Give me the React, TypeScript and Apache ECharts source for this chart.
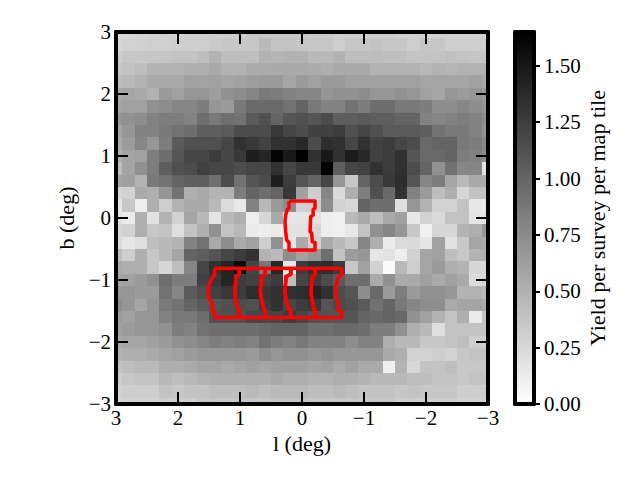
import React, { useEffect, useRef } from "react";
import * as echarts from "echarts";

const longitudes = [3, 2.8, 2.6, 2.4, 2.2, 2, 1.8, 1.6, 1.4, 1.2, 1, 0.8, 0.6, 0.4, 0.2, 0, -0.2, -0.4, -0.6, -0.8, -1, -1.2, -1.4, -1.6, -1.8, -2, -2.2, -2.4, -2.6, -2.8, -3];
const latitudes = [3, 2.8, 2.6, 2.4, 2.2, 2, 1.8, 1.6, 1.4, 1.2, 1, 0.8, 0.6, 0.4, 0.2, 0, -0.2, -0.4, -0.6, -0.8, -1, -1.2, -1.4, -1.6, -1.8, -2, -2.2, -2.4, -2.6, -2.8, -3];
const cellStep = 0.2;

const yieldRows = [
  [.26,.26,.28,.29,.30,.30,.32,.32,.32,.32,.32,.36,.36,.36,.36,.36,.34,.34,.32,.32,.32,.32,.32,.30,.30,.30,.30,.30,.29,.29,.29],
  [.26,.29,.30,.31,.30,.32,.32,.32,.34,.36,.36,.36,.45,.39,.39,.37,.36,.36,.32,.37,.37,.39,.36,.36,.32,.37,.36,.32,.32,.32,.32],
  [.32,.36,.36,.36,.37,.39,.39,.42,.49,.42,.42,.42,.49,.47,.49,.50,.45,.45,.49,.42,.42,.43,.41,.41,.38,.38,.38,.41,.38,.37,.37],
  [.36,.39,.42,.49,.49,.50,.52,.52,.55,.49,.49,.54,.54,.55,.55,.55,.54,.52,.55,.55,.55,.49,.50,.50,.49,.45,.49,.47,.50,.50,.49],
  [.42,.45,.50,.55,.55,.55,.61,.60,.61,.58,.60,.63,.65,.65,.58,.65,.61,.65,.65,.61,.61,.61,.61,.61,.61,.58,.58,.58,.58,.61,.55],
  [.55,.58,.55,.50,.65,.61,.68,.68,.63,.71,.74,.78,.87,.84,.81,.78,.78,.68,.71,.71,.74,.68,.68,.71,.68,.61,.58,.68,.65,.68,.65],
  [.58,.61,.61,.71,.74,.78,.78,.84,.68,.65,.87,.97,.97,.97,.91,1.00,.87,.81,.81,.91,.84,.94,.94,.87,.87,.84,.74,.74,.78,.74,.68],
  [.68,.71,.74,.81,.84,.84,.81,.94,.87,.94,.91,1.07,1.13,1.00,1.10,1.13,1.10,1.16,1.04,1.04,1.07,1.04,1.04,1.00,1.00,.81,.78,.81,.84,.81,.74],
  [.58,.68,.81,.81,.87,.91,.94,1.04,1.04,1.07,1.16,1.16,1.16,1.29,1.20,1.16,1.23,1.23,1.26,1.13,1.20,1.13,1.07,1.07,1.07,1.04,.91,.87,.87,.81,.71],
  [.55,.65,.78,.68,.84,1.07,1.13,1.13,1.13,1.20,1.33,1.29,1.23,1.33,1.33,1.39,1.16,1.36,1.33,1.20,1.33,1.23,1.26,1.20,1.16,.97,1.00,1.00,.87,.84,.78],
  [.52,.58,.61,.84,.94,1.10,1.20,1.20,1.26,1.20,1.29,1.46,1.42,1.63,1.49,1.65,1.33,1.49,1.33,1.47,1.39,1.23,1.26,1.33,1.10,.97,.97,1.00,.84,.81,.74],
  [.42,.58,.71,.84,1.04,1.13,1.16,1.23,1.20,1.20,1.16,1.20,1.20,1.33,1.20,1.29,1.29,1.65,1.04,1.20,1.23,1.33,1.26,1.33,1.16,1.00,.71,.91,.78,.78,.19],
  [.58,.61,.49,.87,.91,1.00,1.04,1.04,.94,1.16,.91,1.10,1.16,1.46,1.26,1.10,1.00,1.20,.68,.36,1.00,1.16,1.29,1.36,1.10,.78,.84,.58,.45,.55,.55],
  [.26,.29,.55,.52,.68,.91,.52,.55,.49,.49,.84,1.00,.94,1.00,1.29,.61,.32,.78,.23,.52,.84,1.13,.97,1.33,.81,.65,.42,.52,.26,.39,.39],
  [.16,.36,.11,.52,.32,.49,.55,.55,.45,.23,.15,.81,.45,.65,.74,.29,.32,.74,.29,.26,1.00,.94,.94,.21,.68,.49,.29,.29,.39,.15,.15],
  [.19,.13,.52,.19,.49,.29,.58,.45,.17,.45,.52,.11,.26,.55,.16,.17,.19,.11,.10,.45,.55,.42,.55,.61,.15,.29,.24,.39,.39,.17,.19],
  [.26,.29,.52,.36,.39,.21,.39,.52,.71,.39,.45,.13,.11,.13,.19,.19,.26,.11,.10,.15,.39,.71,.78,.68,.36,.10,.26,.26,.49,.52,.68],
  [.23,.16,.21,.42,.45,.49,.81,.91,.55,.74,.55,.61,.32,.71,.16,.55,.29,.55,.45,.36,.78,.52,.13,.23,.24,.16,.61,.19,.36,.58,.55],
  [.42,.32,.52,.36,.45,.58,1.00,1.04,1.10,1.20,1.26,1.33,.49,.45,.74,.61,.68,.94,.39,.65,.68,.16,.19,.11,.29,.58,.61,.42,.36,.49,.52],
  [.55,.52,.52,.36,.26,.42,.78,1.20,1.33,1.42,1.59,1.20,.87,1.39,.16,1.26,1.33,1.36,1.26,.36,.61,.29,.03,.45,.32,.58,.65,.52,.49,.26,.26],
  [.58,.61,.65,.71,.94,.84,.84,1.23,1.29,1.42,1.26,1.23,1.20,1.26,.42,1.20,1.26,1.16,1.07,.94,.94,.55,.71,.55,.55,.61,.55,.61,.55,.23,.26],
  [.68,.68,.65,.65,.91,.78,1.07,1.13,1.23,1.29,1.26,1.36,1.29,1.33,1.33,1.36,1.42,1.33,1.16,1.10,.74,.97,.65,.84,.65,.71,.71,.68,.49,.49,.45],
  [.74,.68,.58,.68,.87,.91,1.00,1.07,1.10,1.13,1.16,1.13,1.26,1.33,1.20,1.26,1.29,1.10,1.16,1.13,1.07,.91,1.00,.87,.78,.74,.74,.55,.58,.58,.55],
  [.65,.61,.68,.68,.81,.87,.87,.94,1.13,1.13,1.13,1.20,1.20,1.20,1.26,1.20,1.13,1.10,1.10,1.10,1.00,.97,1.00,.97,.71,.61,.49,.39,.52,.13,.39],
  [.61,.65,.68,.68,.71,.84,.81,.91,.94,.94,.94,.94,.97,1.00,1.00,1.00,.94,.94,.97,.97,.94,.84,.84,.71,.52,.45,.21,.39,.39,.39,.39],
  [.55,.58,.58,.61,.65,.71,.74,.78,.84,.81,.84,.81,.91,.84,.81,.87,.81,.81,.81,.74,.81,.81,.52,.45,.45,.36,.36,.39,.42,.32,.32],
  [.49,.52,.52,.55,.58,.61,.65,.68,.68,.68,.68,.65,.74,.68,.71,.71,.68,.71,.68,.68,.68,.68,.55,.52,.29,.29,.32,.29,.36,.39,.39],
  [.39,.42,.45,.45,.52,.52,.55,.58,.58,.55,.58,.61,.58,.61,.61,.61,.58,.61,.55,.61,.55,.55,.10,.49,.26,.39,.39,.42,.36,.36,.36],
  [.32,.36,.39,.39,.45,.42,.45,.49,.52,.52,.52,.52,.52,.55,.52,.52,.49,.49,.52,.52,.49,.45,.45,.45,.42,.42,.39,.39,.36,.39,.39],
  [.29,.32,.32,.32,.39,.36,.39,.39,.42,.42,.42,.45,.42,.45,.45,.45,.42,.42,.45,.42,.39,.39,.39,.36,.39,.36,.36,.36,.32,.32,.32],
  [.26,.29,.29,.30,.32,.32,.32,.36,.36,.36,.37,.37,.37,.39,.39,.39,.37,.37,.37,.36,.36,.36,.36,.32,.32,.32,.32,.32,.30,.30,.29],
];

const upperFootprint = [
  [0.21, 0.274], [-0.21, 0.274], [-0.21, 0.156], [-0.18, 0.14], [-0.18, 0.048], [-0.14, 0.02], [-0.13, -0.22], [-0.156, -0.247], [-0.166, -0.382], [-0.21, -0.395], [-0.21, -0.516],
  [0.21, -0.516], [0.21, -0.395], [0.247, -0.355], [0.263, -0.22], [0.274, -0.06], [0.263, 0.048], [0.237, 0.14], [0.21, 0.156], [0.21, 0.274],
];

const footprintEdges = [
  [[1.408, -0.811], [1.408, -0.919], [1.456, -0.973], [1.5, -1.081], [1.511, -1.189], [1.5, -1.295], [1.447, -1.376], [1.447, -1.484], [1.408, -1.5], [1.408, -1.602]],
  [[1.011, -0.811], [1.011, -0.905], [1.065, -0.94], [1.085, -1.189], [1.069, -1.323], [1.027, -1.473], [1.011, -1.484], [1.011, -1.602]],
  [[0.592, -0.811], [0.592, -0.905], [0.65, -0.947], [0.673, -1.189], [0.65, -1.323], [0.613, -1.473], [0.592, -1.484], [0.592, -1.602]],
  [[0.18, -0.811], [0.18, -0.905], [0.258, -0.947], [0.274, -1.189], [0.258, -1.323], [0.205, -1.473], [0.182, -1.484], [0.182, -1.602]],
  [[-0.21, -0.811], [-0.21, -0.919], [-0.166, -0.947], [-0.145, -1.189], [-0.161, -1.323], [-0.198, -1.473], [-0.21, -1.484], [-0.21, -1.602]],
  [[-0.64, -0.811], [-0.64, -0.919], [-0.585, -0.947], [-0.548, -1.081], [-0.544, -1.269], [-0.585, -1.35], [-0.585, -1.484], [-0.64, -1.495], [-0.64, -1.602]],
];

const colorRange = [0, 1.65];
const axisTickValues = [-3, -2, -1, 0, 1, 2, 3];
const colorbarTickValues = [0, 0.25, 0.5, 0.75, 1, 1.25, 1.5];
const xLabel = "l (deg)";
const yLabel = "b (deg)";
const colorbarLabel = "Yield per survey per map tile";

const FONT = "Liberation Serif";
const minus = (v: number) => String(v).replace("-", "\u2212");

function frameAxis(position: string, extra: any = {}) {
  return {
    type: "value",
    position,
    min: -3,
    max: 3,
    interval: 1,
    z: 10,
    splitLine: { show: false },
    axisLine: { show: true, onZero: false, lineStyle: { color: "#000", width: 4 } },
    axisTick: { show: true, inside: true, length: 12, lineStyle: { color: "#000", width: 2 }, customValues: axisTickValues },
    axisLabel: { show: false },
    ...extra,
  };
}

const labelStyle = { show: true, formatter: minus, fontFamily: FONT, fontSize: 21, color: "#000", margin: 5, customValues: axisTickValues };
const nameStyle = { fontFamily: FONT, fontSize: 22, color: "#000" };

export default function App() {
  const ref = useRef<HTMLDivElement>(null);

  useEffect(() => {
    const chart = echarts.init(ref.current!, null, { renderer: "svg" });
    const cells: number[][] = [];
    yieldRows.forEach((row, r) => row.forEach((v, c) => cells.push([longitudes[c], latitudes[r], v])));

    const polygons: number[][][] = [upperFootprint];
    for (let i = 0; i + 1 < footprintEdges.length; i++) {
      const left = footprintEdges[i];
      const right = footprintEdges[i + 1];
      polygons.push([...left, ...[...right].reverse(), left[0]]);
    }

    chart.setOption({
      animation: false,
      backgroundColor: "#fff",
      grid: [
        { left: 116, top: 32, width: 372, height: 372 },
        { left: 515, top: 32, width: 19, height: 372 },
      ],
      visualMap: {
        show: false,
        seriesIndex: 0,
        dimension: 2,
        min: colorRange[0],
        max: colorRange[1],
        inRange: { color: ["#ffffff", "#000000"] },
      },
      xAxis: [
        frameAxis("bottom", {
          gridIndex: 0,
          inverse: true,
          axisLabel: { ...labelStyle, margin: 3 },
          name: xLabel,
          nameLocation: "middle",
          nameGap: 25,
          nameTextStyle: nameStyle,
        }),
        frameAxis("top", { gridIndex: 0, inverse: true }),
        {
          type: "value",
          gridIndex: 1,
          min: 0,
          max: 1,
          z: 10,
          splitLine: { show: false },
          axisTick: { show: false },
          axisLabel: { show: false },
          axisLine: { show: true, onZero: false, lineStyle: { color: "#000", width: 4 } },
        },
        {
          type: "value",
          gridIndex: 1,
          position: "top",
          min: 0,
          max: 1,
          z: 10,
          splitLine: { show: false },
          axisTick: { show: false },
          axisLabel: { show: false },
          axisLine: { show: true, onZero: false, lineStyle: { color: "#000", width: 4 } },
        },
      ],
      yAxis: [
        frameAxis("left", {
          gridIndex: 0,
          axisLabel: labelStyle,
          name: yLabel,
          nameLocation: "middle",
          nameGap: 38,
          nameTextStyle: nameStyle,
        }),
        frameAxis("right", { gridIndex: 0 }),
        {
          type: "value",
          gridIndex: 1,
          position: "right",
          min: colorRange[0],
          max: colorRange[1],
          z: 10,
          splitLine: { show: false },
          axisLine: { show: true, onZero: false, lineStyle: { color: "#000", width: 4 } },
          axisTick: { show: true, inside: false, length: 6, lineStyle: { color: "#000", width: 2 }, customValues: colorbarTickValues },
          axisLabel: {
            show: true,
            fontFamily: FONT,
            fontSize: 21,
            color: "#000",
            margin: 10,
            customValues: colorbarTickValues,
            formatter: (v: number) => v.toFixed(2),
          },
          name: colorbarLabel,
          nameLocation: "middle",
          nameRotate: 90,
          nameGap: 52,
          nameTextStyle: nameStyle,
        },
        {
          type: "value",
          gridIndex: 1,
          position: "left",
          min: colorRange[0],
          max: colorRange[1],
          z: 10,
          splitLine: { show: false },
          axisTick: { show: false },
          axisLabel: { show: false },
          axisLine: { show: true, onZero: false, lineStyle: { color: "#000", width: 4 } },
        },
      ],
      series: [
        {
          type: "custom",
          xAxisIndex: 0,
          yAxisIndex: 0,
          clip: true,
          silent: true,
          z: 2,
          encode: { x: 0, y: 1 },
          data: cells,
          renderItem: (params: any, api: any) => {
            const x = api.value(0);
            const y = api.value(1);
            const a = api.coord([x + cellStep / 2, y + cellStep / 2]);
            const b = api.coord([x - cellStep / 2, y - cellStep / 2]);
            const x0 = Math.round(a[0]);
            const y0 = Math.round(a[1]);
            return {
              type: "rect",
              shape: { x: x0, y: y0, width: Math.round(b[0]) - x0, height: Math.round(b[1]) - y0 },
              style: { fill: api.visual("color") },
            };
          },
        },
        {
          type: "custom",
          xAxisIndex: 2,
          yAxisIndex: 2,
          silent: true,
          z: 2,
          encode: { x: 0, y: 1 },
          data: [[0, colorRange[0]]],
          renderItem: (params: any, api: any) => {
            const a = api.coord([0, colorRange[1]]);
            const b = api.coord([1, colorRange[0]]);
            return {
              type: "rect",
              shape: { x: a[0], y: a[1], width: b[0] - a[0], height: b[1] - a[1] },
              style: {
                fill: new echarts.graphic.LinearGradient(0, 0, 0, 1, [
                  { offset: 0, color: "#000000" },
                  { offset: 1, color: "#ffffff" },
                ]),
              },
            };
          },
        },
        ...polygons.map((polygon) => ({
          type: "line",
          xAxisIndex: 0,
          yAxisIndex: 0,
          z: 20,
          silent: true,
          showSymbol: false,
          symbol: "none",
          lineStyle: { color: "#ff0000", width: 3.5, join: "round" },
          data: polygon,
        })),
      ],
    });
    return () => chart.dispose();
  }, []);

  return <div ref={ref} style={{ position: "fixed", left: 0, top: 0, width: 640, height: 480 }} />;
}
